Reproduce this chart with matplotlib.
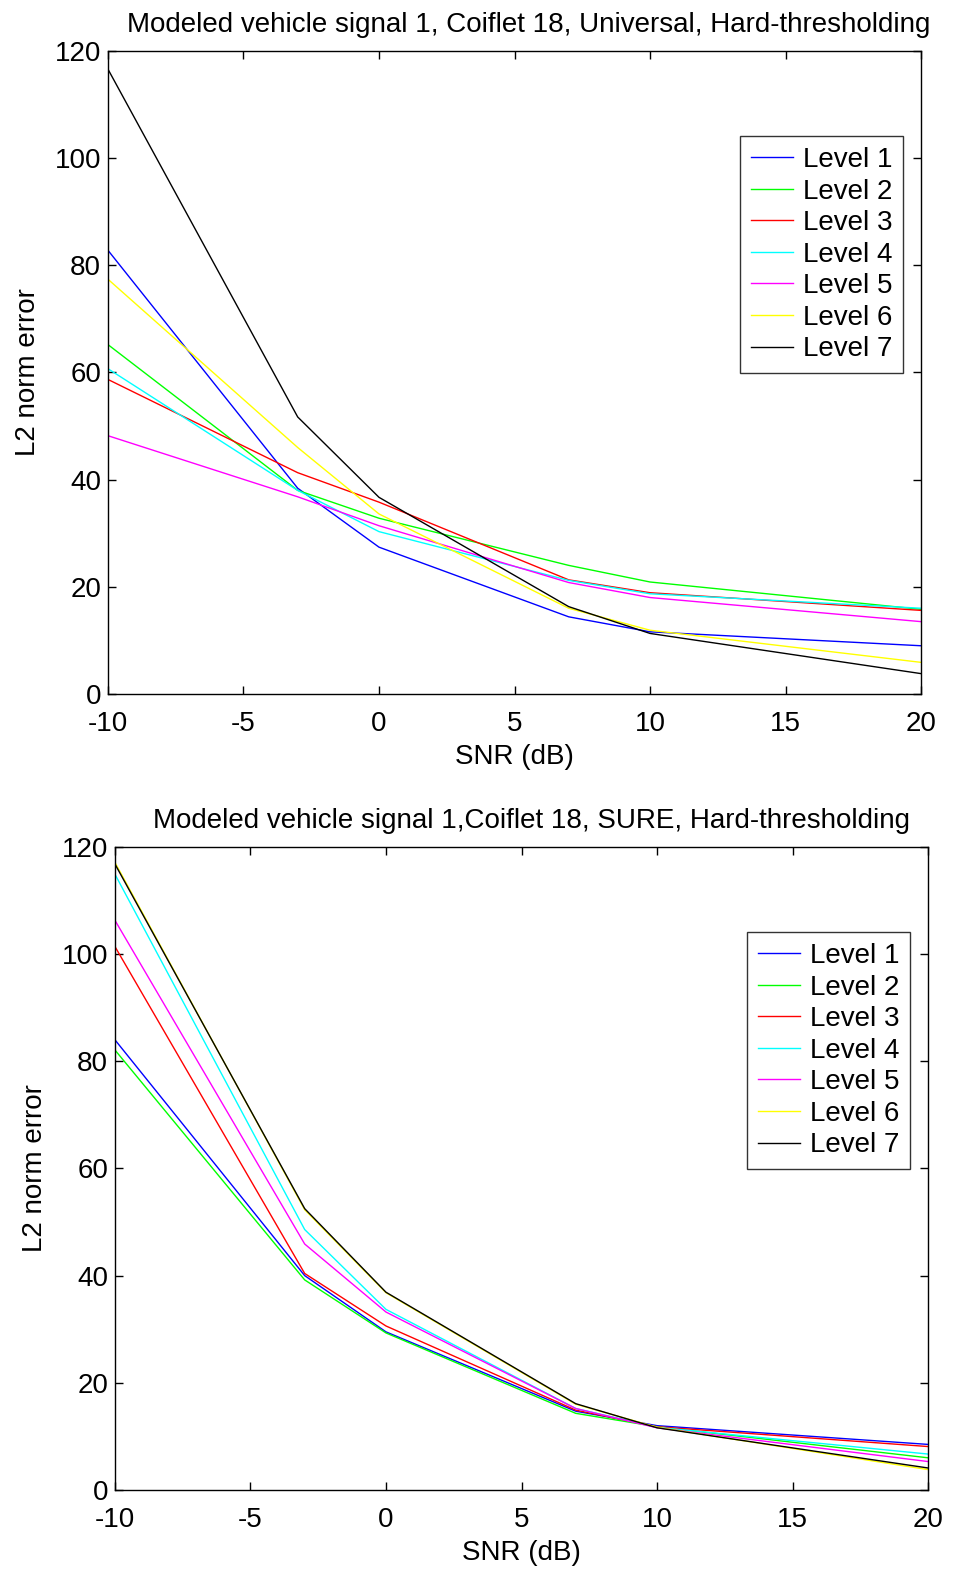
import matplotlib
matplotlib.use('Agg')
import matplotlib.pyplot as plt

plt.rcParams['font.family'] = ['Liberation Sans', 'DejaVu Sans']
plt.rcParams['axes.unicode_minus'] = False

snr = [-10, -3, 0, 7, 10, 20]
labels = ['Level 1', 'Level 2', 'Level 3', 'Level 4', 'Level 5', 'Level 6', 'Level 7']
colors = ['#0000ff', '#00ff00', '#ff0000', '#00ffff', '#ff00ff', '#ffff00', '#000000']

# Universal threshold
universal = [
    [82.8, 38.4, 27.4, 14.4, 11.6, 9.0],
    [65.2, 38.0, 32.8, 24.0, 20.9, 15.8],
    [58.7, 41.3, 35.8, 21.3, 18.9, 15.6],
    [60.7, 38.0, 30.3, 21.2, 18.7, 16.0],
    [48.2, 36.8, 31.4, 20.8, 18.0, 13.5],
    [77.4, 46.0, 33.6, 16.0, 11.9, 5.9],
    [116.6, 51.7, 36.7, 16.3, 11.3, 3.8],
]

# SURE threshold
sure = [
    [84.0, 40.0, 29.5, 14.7, 12.0, 8.5],
    [82.1, 39.2, 29.3, 14.3, 11.8, 6.0],
    [101.4, 40.4, 30.6, 14.9, 11.8, 8.1],
    [114.9, 48.6, 33.7, 15.2, 11.7, 6.7],
    [106.3, 45.9, 33.2, 15.2, 11.6, 5.3],
    [117.1, 52.3, 36.8, 16.0, 11.7, 3.8],
    [116.8, 52.5, 36.9, 16.1, 11.6, 4.1],
]

fig = plt.figure(figsize=(9.59, 15.74), dpi=100)
ax1 = fig.add_axes([0.1126, 0.5591, 0.8478, 0.4085])
ax2 = fig.add_axes([0.1199, 0.0534, 0.8478, 0.4085])


def draw(ax, data, title, tx):
    for ys, c, lab in zip(data, colors, labels):
        ax.plot(snr, ys, color=c, lw=1.0, label=lab)
    ax.set_xlim(-10, 20)
    ax.set_ylim(0, 120)
    ax.set_xticks(range(-10, 21, 5))
    ax.set_yticks(range(0, 121, 20))
    ax.tick_params(direction='in', top=True, right=True, length=6, width=1,
                   labelsize=20)
    ax.tick_params(axis='x', pad=12)
    ax.tick_params(axis='y', pad=5)
    for s in ax.spines.values():
        s.set_linewidth(1.0)
    ax.set_xlabel('SNR (dB)', fontsize=20, labelpad=5)
    ax.set_ylabel('L2 norm error', fontsize=20, labelpad=10)
    ax.set_title(title, fontsize=20, pad=14, x=tx)
    leg = ax.legend(loc='upper right', bbox_to_anchor=(0.978, 0.868), fontsize=20,
                    frameon=True, fancybox=False, handlelength=1.5,
                    handletextpad=0.35, labelspacing=0.2, borderpad=0.4,
                    borderaxespad=0)
    leg.get_frame().set_edgecolor('black')
    leg.get_frame().set_linewidth(1.0)


draw(ax1, universal, 'Modeled vehicle signal 1, Coiflet 18, Universal, Hard-thresholding', 0.518)
draw(ax2, sure, 'Modeled vehicle signal 1,Coiflet 18, SURE, Hard-thresholding', 0.512)

fig.savefig('out.png', dpi=100)
